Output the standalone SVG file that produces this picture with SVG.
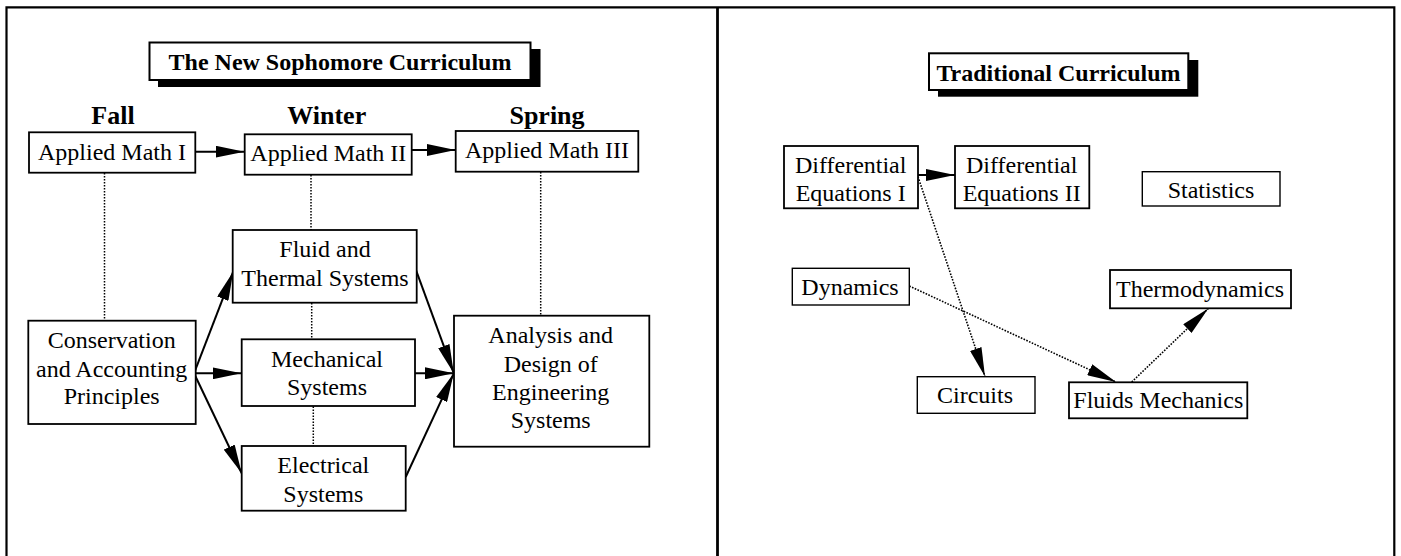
<svg xmlns="http://www.w3.org/2000/svg" width="1401" height="556" viewBox="0 0 1401 556">
<style>
text{font-family:"Liberation Serif","Times New Roman",serif;fill:#000;text-anchor:middle}
.t{font-size:24px}
.b{font-size:24px;font-weight:bold}
.s{font-size:26px;font-weight:bold}
.box{fill:#fff;stroke:#000;stroke-width:1.8}
.thin{stroke-width:1.4}
.shadow{fill:#000;stroke:none}
.frame{stroke:#000;stroke-width:2.2;fill:none}
.arr{stroke:#000;stroke-width:2;fill:none;marker-end:url(#head)}
.dot{stroke:#000;stroke-width:1.5;fill:none;stroke-dasharray:1.5 1.5}
.darr{stroke:#000;stroke-width:1.6;fill:none;stroke-dasharray:1.6 1.4;marker-end:url(#head)}
</style>
<defs>
<marker id="head" markerUnits="userSpaceOnUse" markerWidth="30" markerHeight="12" refX="29" refY="6" orient="auto" viewBox="0 0 30 12">
<path d="M0,0 L29,6 L0,12 Z" fill="#000"/>
</marker>
</defs>
<rect width="1401" height="556" fill="#fff"/>
<g id="frame">
<path class="frame" d="M6.5,556 V7.3 H1394.3 V556"/>
<line x1="717.5" y1="7" x2="717.5" y2="556" stroke="#000" stroke-width="2.8"/>
</g>
<g id="title-left">
<rect class="shadow" x="158" y="49" width="382.5" height="38"/>
<rect class="box" x="149.5" y="42.5" width="381" height="37.5" style="stroke-width:2"/>
<text class="b" x="340" y="70">The New Sophomore Curriculum</text>
</g>
<g id="headers">
<text class="s" x="113" y="124">Fall</text>
<text class="s" x="326.7" y="124">Winter</text>
<text class="s" x="547" y="124">Spring</text>
</g>
<g id="connectors">
<line class="dot" x1="104.5" y1="173" x2="104.5" y2="320.7"/>
<line class="dot" x1="311" y1="175" x2="311" y2="230"/>
<line class="dot" x1="311.7" y1="303" x2="311.7" y2="339.3"/>
<line class="dot" x1="313.3" y1="406.5" x2="313.3" y2="446"/>
<line class="dot" x1="540.7" y1="172" x2="540.7" y2="315.7"/>
<line class="arr" x1="195.5" y1="151.7" x2="244.5" y2="151.7"/>
<line class="arr" x1="411.7" y1="150" x2="455.5" y2="150"/>
<line class="arr" x1="194" y1="373.3" x2="233.2" y2="271.7"/>
<line class="arr" x1="194" y1="373.3" x2="241.5" y2="373.3"/>
<line class="arr" x1="194" y1="373.3" x2="241.7" y2="473.3"/>
<line class="arr" x1="415" y1="267.3" x2="453.8" y2="373.3"/>
<line class="arr" x1="415" y1="373.3" x2="453.8" y2="373.3"/>
<line class="arr" x1="405.7" y1="477" x2="453.8" y2="373.3"/>
<line class="arr" x1="918" y1="175" x2="955" y2="175"/>
<line class="darr" x1="918" y1="176.7" x2="985" y2="376.5"/>
<line class="darr" x1="909.3" y1="286" x2="1116" y2="382"/>
<line class="darr" x1="1131.7" y1="382" x2="1208.3" y2="308.5"/>
</g>
<g id="am1">
<rect class="box" x="29" y="132.3" width="166.3" height="40.4"/>
<text class="t" x="112" y="159.5">Applied Math I</text>
</g>
<g id="am2">
<rect class="box" x="244.7" y="134.3" width="167" height="40.4"/>
<text class="t" x="328.3" y="161">Applied Math II</text>
</g>
<g id="am3">
<rect class="box" x="455.7" y="131" width="182.6" height="40.7"/>
<text class="t" x="547" y="158">Applied Math III</text>
</g>
<g id="fluid">
<rect class="box" x="232.7" y="230" width="184" height="72.7"/>
<text class="t" x="325" y="256.7">Fluid and</text>
<text class="t" x="325" y="285.7">Thermal Systems</text>
</g>
<g id="conservation">
<rect class="box" x="28.3" y="320.7" width="167.4" height="103.3"/>
<text class="t" x="111.7" y="348.3">Conservation</text>
<text class="t" x="111.7" y="376.7">and Accounting</text>
<text class="t" x="111.7" y="404">Principles</text>
</g>
<g id="mechanical">
<rect class="box" x="241.7" y="339.3" width="173.3" height="66.7"/>
<text class="t" x="327" y="366.7">Mechanical</text>
<text class="t" x="327" y="395">Systems</text>
</g>
<g id="electrical">
<rect class="box" x="241.7" y="446" width="164" height="64.7"/>
<text class="t" x="323.3" y="473.3">Electrical</text>
<text class="t" x="323.3" y="501.7">Systems</text>
</g>
<g id="analysis">
<rect class="box" x="454" y="315.7" width="195.3" height="131"/>
<text class="t" x="550.7" y="342.7">Analysis and</text>
<text class="t" x="550.7" y="372.3">Design of</text>
<text class="t" x="550.7" y="400">Engineering</text>
<text class="t" x="550.7" y="428.3">Systems</text>
</g>
<g id="title-right">
<rect class="shadow" x="938" y="60" width="260.3" height="36.7"/>
<rect class="box" x="929" y="53.3" width="259.3" height="36.7" style="stroke-width:2"/>
<text class="b" x="1058.5" y="80.7">Traditional Curriculum</text>
</g>
<g id="de1">
<rect class="box" x="784" y="146" width="134" height="62.3"/>
<text class="t" x="850.7" y="173.3">Differential</text>
<text class="t" x="850.7" y="200.7">Equations I</text>
</g>
<g id="de2">
<rect class="box" x="955" y="146" width="134.3" height="62.3"/>
<text class="t" x="1021.7" y="173.3">Differential</text>
<text class="t" x="1021.7" y="200.7">Equations II</text>
</g>
<g id="statistics">
<rect class="box thin" x="1142.3" y="171.7" width="137.7" height="34.3"/>
<text class="t" x="1211" y="198.3">Statistics</text>
</g>
<g id="dynamics">
<rect class="box thin" x="792.3" y="268.3" width="117" height="36.7"/>
<text class="t" x="850" y="295">Dynamics</text>
</g>
<g id="thermodynamics">
<rect class="box" x="1110" y="270" width="181" height="38.3"/>
<text class="t" x="1200" y="296.7">Thermodynamics</text>
</g>
<g id="circuits">
<rect class="box thin" x="917.3" y="376.7" width="117.7" height="36.6"/>
<text class="t" x="975" y="403.3">Circuits</text>
</g>
<g id="fluids">
<rect class="box" x="1069" y="382.3" width="178.3" height="36"/>
<text class="t" x="1158.3" y="408.3">Fluids Mechanics</text>
</g>
</svg>
